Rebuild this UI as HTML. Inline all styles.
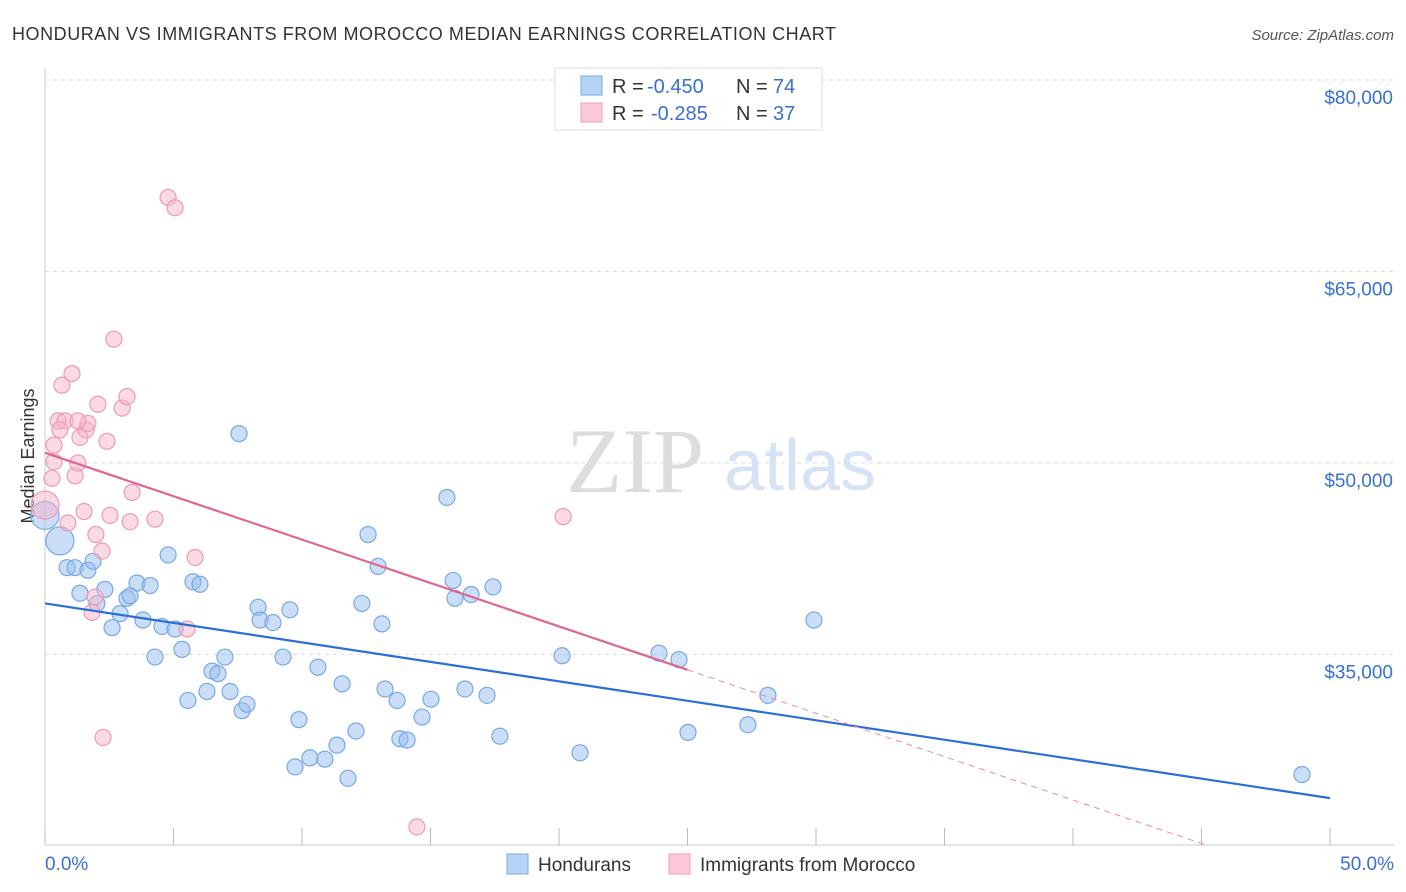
<!DOCTYPE html>
<html><head><meta charset="utf-8"><style>
body{margin:0;background:#fff;font-family:"Liberation Sans",sans-serif;}
svg{display:block}
</style></head><body>
<svg id="c" width="1406" height="892" xmlns="http://www.w3.org/2000/svg">
<text x="12" y="40" font-size="18" fill="#333" textLength="824">HONDURAN VS IMMIGRANTS FROM MOROCCO MEDIAN EARNINGS CORRELATION CHART</text>
<text x="1394" y="40" font-size="15" fill="#555" font-style="italic" text-anchor="end">Source: ZipAtlas.com</text>
<text x="34" y="456" font-size="18" fill="#333" text-anchor="middle" transform="rotate(-90 34 456)">Median Earnings</text>
<g id="grid"></g>
<g>
<text x="635" y="492" font-size="92" font-family="Liberation Serif,serif" fill="#ddd" text-anchor="middle">ZIP</text>
<text x="800" y="490" font-size="72" fill="#d5e3f5" text-anchor="middle">atlas</text>
</g>
<g id="pts"></g>
<g id="lines"></g>
<g>
<rect x="555" y="68" width="267" height="62" fill="#fff" stroke="#ddd"/>
<rect x="581" y="76" width="21" height="19" fill="#b8d4f5" stroke="#7aaae6"/>
<rect x="581" y="103" width="21" height="19" fill="#fbc9d8" stroke="#f0a0ba"/>
<text x="612" y="93" font-size="20" fill="#333">R =</text>
<text x="647" y="93" font-size="20" fill="#3a70d0">-0.450</text>
<text x="736" y="93" font-size="20" fill="#333">N =</text>
<text x="773" y="93" font-size="20" fill="#3a70d0">74</text>
<text x="612" y="120" font-size="20" fill="#333">R =</text>
<text x="651" y="120" font-size="20" fill="#3a70d0">-0.285</text>
<text x="736" y="120" font-size="20" fill="#333">N =</text>
<text x="773" y="120" font-size="20" fill="#3a70d0">37</text>
</g>
<g>
<rect x="507" y="854" width="21" height="20" fill="#b8d4f5" stroke="#7aaae6"/>
<text x="538" y="871" font-size="19" fill="#333">Hondurans</text>
<rect x="669" y="854" width="21" height="20" fill="#fbc9d8" stroke="#f0a0ba"/>
<text x="700" y="871" font-size="19" fill="#333">Immigrants from Morocco</text>
</g>
</svg>
<script>
const xTicks=[0,5,10,15,20,25,30,35,40,45,50];
const yTicks=[35000,50000,65000,80000];
const yTickLabels=["$35,000","$50,000","$65,000","$80,000"];
const bluePts=[[0,45.9],[0.58,43.9],[0.86,41.8],[1.17,41.8],[1.67,41.6],[1.87,42.3],[1.36,39.8],[2.02,39.0],[2.61,37.1],[2.33,40.1],[2.92,38.2],[3.19,39.4],[3.31,39.6],[3.58,40.6],[4.09,40.4],[3.81,37.7],[4.55,37.2],[5.06,37.0],[4.28,34.8],[4.79,42.8],[5.33,35.4],[5.56,31.4],[5.76,40.7],[6.03,40.5],[6.30,32.1],[6.50,33.7],[6.73,33.5],[7.00,34.8],[7.20,32.1],[7.67,30.6],[7.86,31.1],[7.55,52.3],[8.29,38.7],[8.37,37.7],[8.87,37.5],[9.26,34.8],[9.53,38.5],[9.73,26.2],[9.88,29.9],[10.31,26.9],[10.62,34.0],[10.89,26.8],[11.36,27.9],[11.56,32.7],[11.79,25.3],[12.10,29.0],[12.33,39.0],[12.57,44.4],[12.96,41.9],[13.11,37.4],[13.23,32.3],[13.70,31.4],[13.81,28.4],[14.09,28.3],[14.67,30.1],[15.02,31.5],[15.64,47.3],[15.88,40.8],[15.95,39.4],[16.34,32.3],[16.58,39.7],[17.20,31.8],[17.43,40.3],[17.70,28.6],[20.12,34.9],[20.82,27.3],[23.89,35.1],[24.67,34.6],[25.02,28.9],[27.35,29.5],[28.13,31.8],[29.92,37.7],[48.91,25.6]];
const pinkPts=[[0,46.7],[0.27,48.8],[0.35,50.1],[0.35,51.4],[0.51,53.3],[0.66,56.1],[0.78,53.3],[1.05,57.0],[1.17,49.0],[1.28,50.0],[1.36,52.0],[1.52,46.2],[1.60,52.6],[1.67,53.1],[1.83,38.3],[1.95,39.5],[1.98,44.4],[2.06,54.6],[2.22,43.1],[2.26,28.5],[2.41,51.7],[2.53,45.9],[2.68,59.7],[3.00,54.3],[3.19,55.2],[3.31,45.4],[3.39,47.7],[4.28,45.6],[4.79,70.8],[5.06,70.0],[5.53,37.0],[5.84,42.6],[20.16,45.8],[14.47,21.5],[0.89,45.3],[0.58,52.6],[1.28,53.3]];
const blueTrend=[39.0,-0.305];
const pinkTrend=[50.8,-0.68];
const pinkSolidEnd=25;
const NS="http://www.w3.org/2000/svg";
const X=v=>45+v*25.7, Y=k=>80+(80-k)*1000/15000*191.5;
function mk(t,a,p){const e=document.createElementNS(NS,t);for(const k in a)e.setAttribute(k,a[k]);(p||document.getElementById('c')).appendChild(e);return e;}
const g=document.getElementById('grid');
mk('line',{x1:45,y1:68,x2:45,y2:845,stroke:'#ccc'},g);
mk('line',{x1:45,y1:845,x2:1394,y2:845,stroke:'#ccc'},g);
yTicks.forEach((t,i)=>{const y=Y(t/1000);
const l=mk('line',{x1:45,y1:y,x2:1394,y2:y,stroke:'#ddd','stroke-dasharray':'4,4'},g);

const tx=mk('text',{x:1393,y:y+24,'font-size':19,fill:'#3a70d0','text-anchor':'end'},g);tx.textContent=yTickLabels[i];
});
xTicks.forEach(t=>{const l=mk('line',{x1:X(t),y1:828,x2:X(t),y2:845,stroke:'#bbb'},g);
});
let a=mk('text',{x:45,y:870,'font-size':19,fill:'#3a70d0'},g);a.textContent='0.0%';

a=mk('text',{x:1394,y:870,'font-size':19,fill:'#3a70d0','text-anchor':'end'},g);a.textContent='50.0%';

const pg=document.getElementById('pts');
bluePts.forEach((p,i)=>{const c=mk('circle',{cx:X(p[0]),cy:Y(p[1]),r:i<2?14:8,fill:'rgba(150,190,240,0.5)',stroke:'#78a8e6','stroke-width':1.2},pg);
});
pinkPts.forEach((p,i)=>{const c=mk('circle',{cx:X(p[0]),cy:Y(p[1]),r:i<1?14:8,fill:'rgba(248,180,204,0.5)',stroke:'#ee9ab6','stroke-width':1.2},pg);
});
const lg=document.getElementById('lines');
let l=mk('line',{x1:X(0),y1:Y(blueTrend[0]),x2:X(50),y2:Y(blueTrend[0]+blueTrend[1]*50),stroke:'#2a6fd6','stroke-width':2.2},lg);

l=mk('line',{x1:X(0),y1:Y(pinkTrend[0]),x2:X(pinkSolidEnd),y2:Y(pinkTrend[0]+pinkTrend[1]*pinkSolidEnd),stroke:'#e06690','stroke-width':2.2},lg);

const xEnd=(pinkTrend[0]-(80-(845-80)*15/191.5))/(-pinkTrend[1]);
l=mk('line',{x1:X(pinkSolidEnd),y1:Y(pinkTrend[0]+pinkTrend[1]*pinkSolidEnd),x2:X(xEnd),y2:Y(pinkTrend[0]+pinkTrend[1]*xEnd),stroke:'#e889a8','stroke-width':1,'stroke-dasharray':'6,5'},lg);

</script>
</body></html>
